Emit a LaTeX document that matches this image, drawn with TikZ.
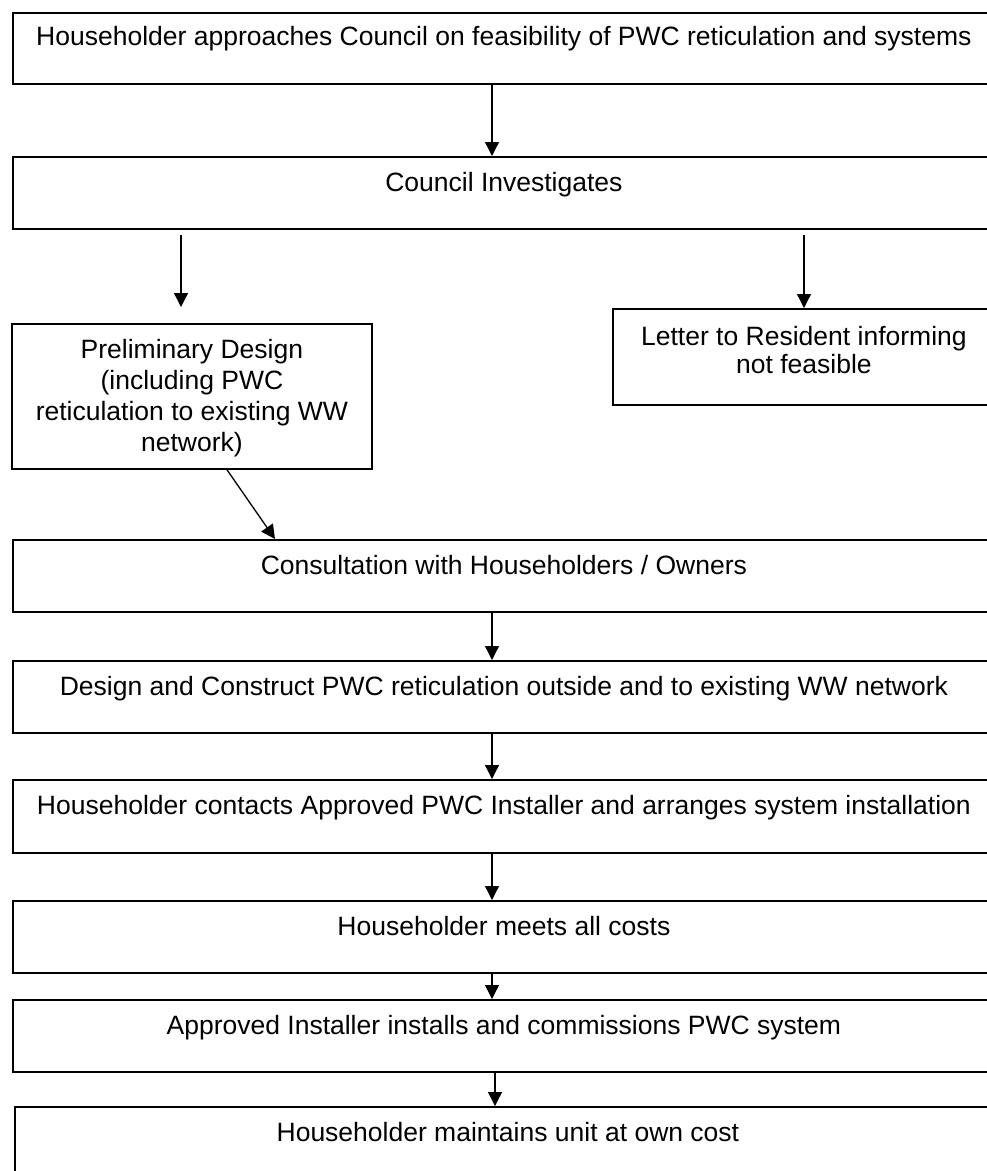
\documentclass[tikz,border=0pt]{standalone}
\usepackage{fontspec}
\setmainfont{Liberation Sans}
\usetikzlibrary{arrows.meta}
\begin{document}
\begin{tikzpicture}[x=1pt,y=1pt,
  box/.style={draw, line width=1.8pt, rectangle, inner sep=0pt, anchor=north west},
  txt/.style={inner sep=0pt, anchor=north, align=center, font=\fontsize{26.5}{30}\selectfont},
  arr/.style={line width=1.3pt, -{Triangle[length=14pt,width=14pt]}}]
\useasboundingbox (0,0) rectangle (987,-1171);
% boxes
\node[box, minimum width=982pt, minimum height=71pt] (b1) at (12,-12) {};
\node[box, minimum width=982pt, minimum height=72pt] (b2) at (12,-156) {};
\node[box, minimum width=360pt, minimum height=145pt] (pre) at (11,-323) {};
\node[box, minimum width=382pt, minimum height=96pt] (let) at (612,-308) {};
\node[box, minimum width=982pt, minimum height=72pt] (con) at (12,-539) {};
\node[box, minimum width=982pt, minimum height=72pt] (des) at (12,-660) {};
\node[box, minimum width=982pt, minimum height=73pt] (hc) at (12,-779) {};
\node[box, minimum width=982pt, minimum height=72pt] (hm) at (12,-900) {};
\node[box, minimum width=982pt, minimum height=72pt] (ai) at (12,-999) {};
\node[box, minimum width=986pt, minimum height=80pt] (hu) at (14,-1106) {};
% texts
\node[txt] (t1) at ([yshift=-14pt]b1.north) {Householder approaches Council on feasibility of PWC reticulation and systems};
\node[txt] (t2) at ([yshift=-16pt]b2.north) {Council Investigates};
\node[txt, font=\fontsize{26.5}{31}\selectfont] (tp) at ([yshift=-16pt]pre.north) {Preliminary Design\\(including PWC\\reticulation to existing WW\\network)};
\node[txt, font=\fontsize{26.5}{28.5}\selectfont] (tl) at ([yshift=-18pt]let.north) {Letter to Resident informing\\not feasible};
\node[txt] (tc) at ([yshift=-16pt]con.north) {Consultation with Householders / Owners};
\node[txt] (td) at ([yshift=-16pt]des.north) {Design and Construct PWC reticulation outside and to existing WW network};
\node[txt] (th) at ([yshift=-16pt]hc.north) {Householder contacts Approved PWC Installer and arranges system installation};
\node[txt] (tm) at ([yshift=-16pt]hm.north) {Householder meets all costs};
\node[txt] (ta) at ([yshift=-16pt]ai.north) {Approved Installer installs and commissions PWC system};
\node[txt] (tu) at ([yshift=-16pt]hu.north) {Householder maintains unit at own cost};
% connector helpers
\coordinate (cx) at (492,0);
\coordinate (cx2) at (495,0);
\coordinate (la1) at (181,-235);
\coordinate (la2) at (181,-307);
\coordinate (ra1) at (804,-235);
\coordinate (d1) at (227,0);
\coordinate (d2) at (275,0);
% connectors
\draw[arr] (b1.south -| cx) -- (b2.north -| cx);
\draw[arr] (la1) -- (la2);
\draw[arr] (ra1) -- (let.north -| ra1);
\draw[arr] (pre.south -| d1) -- (con.north -| d2);
\draw[arr] (con.south -| cx) -- (des.north -| cx);
\draw[arr] (des.south -| cx) -- (hc.north -| cx);
\draw[arr] (hc.south -| cx) -- (hm.north -| cx);
\draw[arr] (hm.south -| cx) -- (ai.north -| cx);
\draw[arr] (ai.south -| cx2) -- (hu.north -| cx2);
\end{tikzpicture}
\end{document}
